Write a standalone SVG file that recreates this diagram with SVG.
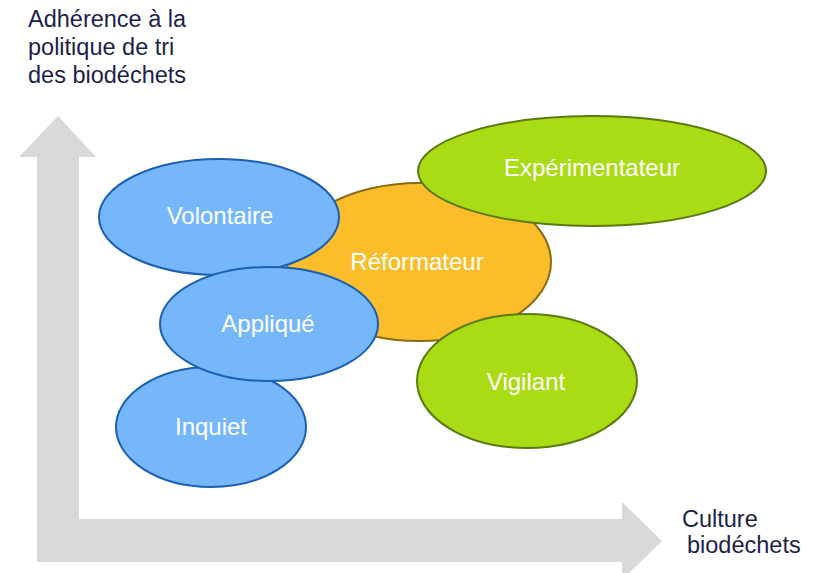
<svg xmlns="http://www.w3.org/2000/svg" width="825" height="573" viewBox="0 0 825 573">
<style>
.ax{fill:#d9d9d9}
.al{font-family:"Liberation Sans",Arial,sans-serif;font-size:23.5px;fill:#1c1f4a}
.blue{fill:#75b7fa;stroke:#1a5fb4;stroke-width:2}
.orange{fill:#fbbd2a;stroke:#8a6a14;stroke-width:2}
.green{fill:#a9dc14;stroke:#5a7a12;stroke-width:2}
.t{font-family:"Liberation Sans",Arial,sans-serif;font-size:24px;fill:#ffffff;text-anchor:middle}
</style>
<rect width="825" height="573" fill="#ffffff"/>
<g id="axes">
<path class="ax" d="M58,116 L96,157 L79,157 L79,519 L622,519 L622,502 L662,541 L622,580 L622,562 L37,562 L37,157 L19,157 Z"/>
</g>
<g id="axis-labels">
<text class="al" x="28" y="27">Adhérence à la</text>
<text class="al" x="28" y="55">politique de tri</text>
<text class="al" x="28" y="83">des biodéchets</text>
<text class="al" x="682" y="527">Culture</text>
<text class="al" x="687" y="553">biodéchets</text>
</g>
<g id="reformateur">
<ellipse class="orange" cx="419" cy="262" rx="132" ry="79"/>
<text class="t" x="417" y="270">Réformateur</text>
</g>
<g id="experimentateur">
<ellipse class="green" cx="592" cy="171" rx="174" ry="55"/>
<text class="t" x="592" y="176">Expérimentateur</text>
</g>
<g id="volontaire">
<ellipse class="blue" cx="219" cy="217" rx="120" ry="58"/>
<text class="t" x="220" y="224">Volontaire</text>
</g>
<g id="inquiet">
<ellipse class="blue" cx="211" cy="427" rx="95" ry="60"/>
<text class="t" x="211" y="435">Inquiet</text>
</g>
<g id="applique">
<ellipse class="blue" cx="269" cy="324" rx="109" ry="57"/>
<text class="t" x="268" y="332">Appliqué</text>
</g>
<g id="vigilant">
<ellipse class="green" cx="527" cy="381" rx="110" ry="67"/>
<text class="t" x="526" y="390">Vigilant</text>
</g>
</svg>
